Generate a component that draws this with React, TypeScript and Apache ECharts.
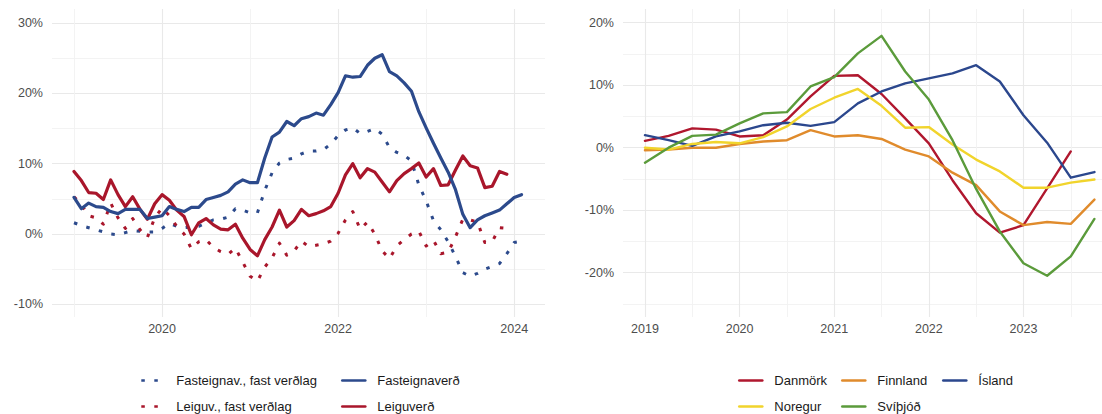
import React, { useEffect, useRef } from 'react';
import * as echarts from 'echarts';

// ---------- Left chart: monthly, Jan 2019 onwards ----------
const monthStartYear = 2019;
const fasteignaverd = [
  5.2, 3.6, 4.4, 3.9, 3.8, 3.2, 2.9, 3.5, 3.5, 3.5, 2.2, 2.4,
  2.6, 3.9, 3.5, 3.2, 3.8, 3.8, 4.9, 5.2, 5.5, 6.0, 7.1, 7.7,
  7.3, 7.3, 10.8, 13.8, 14.5, 16.0, 15.4, 16.4, 16.7, 17.2, 16.9, 18.4,
  20.1, 22.5, 22.3, 22.4, 24.0, 25.0, 25.5, 23.1, 22.5, 21.5, 20.3, 17.4,
  15.1, 12.9, 10.8, 8.8, 6.3, 2.8, 0.9, 2.0, 2.6, 3.0, 3.4, 4.3,
  5.2, 5.6,
];
const fasteignavFast = [
  1.6, 1.2, 0.9, 0.6, 0.3, 0.0, -0.1, 0.2, 0.5, 0.4, 0.3, 0.3,
  0.8, 1.5, 1.1, 0.9, 1.0, 1.1, 1.6, 2.0, 2.1, 2.4, 3.6, 3.4,
  3.0, 3.0, 6.2, 8.7, 10.1, 10.6, 10.8, 11.4, 11.8, 11.8, 12.0, 12.8,
  14.0, 14.8, 15.1, 14.3, 14.6, 15.0, 14.2, 12.3, 11.6, 11.2, 10.4, 7.0,
  4.7, 1.9, 0.6, -1.1, -3.2, -5.5, -6.0, -5.6, -5.0, -4.6, -4.2, -2.8,
  -1.2, -1.0,
];
const leiguverd = [
  8.9, 7.6, 5.9, 5.8, 4.9, 7.7, 5.6, 3.9, 5.3, 3.5, 2.1, 4.3,
  5.6, 4.8, 3.4, 2.5, -0.1, 1.6, 2.2, 1.3, 0.7, 0.6, 1.4, -0.6,
  -2.2, -3.1, -0.8, 1.0, 3.4, 1.0, 1.9, 3.5, 2.6, 2.9, 3.3, 3.9,
  5.8, 8.4, 10.0, 8.0, 9.3, 8.8, 7.4, 6.0, 7.6, 8.6, 9.3, 10.1,
  8.1, 9.3, 6.9, 7.0, 9.1, 11.1, 9.7, 9.4, 6.6, 6.8, 8.9, 8.5,
];
const leiguvFast = [
  5.3, 4.2, 2.6, 2.3, 1.4, 4.4, 2.3, 0.8, 2.2, 0.6, -0.5, 2.3,
  3.7, 2.6, 1.1, 0.0, -2.1, -1.1, -0.8, -1.9, -2.5, -2.9, -2.0, -4.0,
  -6.0, -6.7, -4.7, -3.4, -1.3, -3.0, -2.4, -1.0, -1.8, -1.6, -1.4, -1.0,
  0.1, 2.0, 3.2, 0.7, 1.7, 0.0, -2.4, -3.5, -1.7, -0.8, 0.0, 0.4,
  -1.7, -0.9, -2.8, -2.6, -0.4, 2.1, 2.0, 1.7, -1.2, -1.1, 0.9, 0.8,
];

const leftMajorX = [2020, 2022, 2024];
const leftMinorX = [2019, 2021, 2023];
const leftMajorY = [-10, 0, 10, 20, 30];
const leftMinorY = [-5, 5, 15, 25];

// ---------- Right chart: quarterly, Q1 2019 onwards ----------
const quarterStartYear = 2019;
const danmork = [1.1, 1.9, 3.1, 2.9, 1.8, 2.0, 4.5, 8.2, 11.5, 11.6, 8.6, 4.7, 0.7, -5.2, -10.5, -13.6, -12.4, -6.5, -0.6];
const finnland = [-0.4, -0.3, 0.0, 0.0, 0.6, 1.0, 1.2, 2.8, 1.8, 2.0, 1.4, -0.3, -1.4, -4.0, -6.0, -10.2, -12.4, -11.9, -12.2, -8.3];
const island = [2.0, 1.2, 0.3, 1.8, 2.6, 3.6, 4.0, 3.5, 4.1, 7.1, 9.0, 10.3, 11.1, 11.9, 13.2, 10.6, 5.2, 0.8, -4.8, -3.9];
const noregur = [0.0, -0.3, 0.6, 0.9, 0.7, 1.7, 3.4, 6.2, 8.0, 9.4, 6.7, 3.2, 3.3, 0.5, -1.9, -3.8, -6.4, -6.4, -5.6, -5.1];
const svithjod = [-2.4, 0.0, 1.9, 2.1, 3.9, 5.5, 5.7, 9.8, 11.3, 15.1, 17.9, 12.2, 7.7, 1.2, -6.6, -13.4, -18.5, -20.5, -17.4, -11.4];

const rightMajorX = [2019, 2020, 2021, 2022, 2023];
const rightMinorX = [2019.5, 2020.5, 2021.5, 2022.5, 2023.5];
const rightMajorY = [-20, -10, 0, 10, 20];
const rightMinorY = [-25, -15, -5, 5, 15];

const FONT = '"Liberation Sans", Arial, sans-serif';
const BLUE = '#2C4A8C';
const RED = '#A9162B';
const C_DK = '#B0172E';
const C_FI = '#E08B2C';
const C_IS = '#2B478D';
const C_NO = '#F1D42C';
const C_SE = '#5B9B3B';

const monthly = (arr: number[]) => arr.map((v, i) => [monthStartYear + i / 12, v]);
const quarterly = (arr: number[]) => arr.map((v, i) => [quarterStartYear + i / 4, v]);

function axis(
  dim: 'x' | 'y',
  gridIndex: number,
  min: number,
  max: number,
  values: number[],
  major: boolean,
  formatter: (v: number) => string
) {
  return {
    type: 'value',
    gridIndex,
    min,
    max,
    position: dim === 'x' ? 'bottom' : 'left',
    axisLine: { show: false },
    axisTick: { show: false, customValues: values },
    axisLabel: {
      show: major,
      customValues: values,
      formatter,
      color: '#4D4D4D',
      fontSize: 12.5,
      fontFamily: FONT,
      margin: dim === 'x' ? 5 : 9,
    },
    splitLine: {
      show: true,
      lineStyle: { color: major ? '#E9E9E9' : '#F2F2F2', width: major ? 1.1 : 0.9 },
    },
  };
}

const pct = (v: number) => `${Math.round(v)}%`;
const yr = (v: number) => `${Math.round(v)}`;

function legend(name: string, left: number, top: number) {
  return {
    data: [name],
    left,
    top,
    padding: 0,
    itemWidth: 23,
    itemHeight: 14,
    selectedMode: false,
    itemStyle: { opacity: 0, borderWidth: 0 },
    lineStyle: { width: 2.6 },
    textStyle: { fontSize: 13, color: '#1A1A1A', fontFamily: FONT, padding: [0, 0, 0, 7] },
  };
}

function lineSeries(name: string, data: number[][], color: string, width: number, xi: number, yi: number, dotted = false) {
  return {
    name,
    type: 'line',
    data,
    xAxisIndex: xi,
    yAxisIndex: yi,
    showSymbol: false,
    symbol: 'none',
    color,
    lineStyle: {
      color,
      width,
      type: dotted ? [3.5, 9.5] : 'solid',
      cap: dotted ? 'butt' : 'round',
      join: 'round',
    },
  };
}

export default function App() {
  const ref = useRef<HTMLDivElement>(null);
  useEffect(() => {
    if (!ref.current) return;
    const chart = echarts.init(ref.current, null, { renderer: 'svg' });
    const option = {
      animation: false,
      backgroundColor: '#ffffff',
      grid: [
        { left: 52, top: 9, width: 493, height: 308 },
        { left: 623, top: 9, width: 479, height: 308 },
      ],
      xAxis: [
        axis('x', 0, 2018.75, 2024.35, leftMajorX, true, yr),
        axis('x', 0, 2018.75, 2024.35, leftMinorX, false, yr),
        axis('x', 1, 2018.768, 2023.83, rightMajorX, true, yr),
        axis('x', 1, 2018.768, 2023.83, rightMinorX, false, yr),
      ],
      yAxis: [
        axis('y', 0, -11.8, 32.0, leftMajorY, true, pct),
        axis('y', 0, -11.8, 32.0, leftMinorY, false, pct),
        axis('y', 1, -27.1, 22.2, rightMajorY, true, pct),
        axis('y', 1, -27.1, 22.2, rightMinorY, false, pct),
      ],
      legend: [
        legend('Fasteignav., fast verðlag', 140, 374),
        legend('Fasteignaverð', 341, 374),
        legend('Leiguv., fast verðlag', 140, 400),
        legend('Leiguverð', 341, 400),
        legend('Danmörk', 738, 374),
        legend('Finnland', 841, 374),
        legend('Ísland', 942, 374),
        legend('Noregur', 738, 400),
        legend('Svíþjóð', 841, 400),
      ],
      series: [
        lineSeries('Fasteignav., fast verðlag', monthly(fasteignavFast), BLUE, 3, 0, 0, true),
        lineSeries('Leiguv., fast verðlag', monthly(leiguvFast), RED, 3, 0, 0, true),
        lineSeries('Leiguverð', monthly(leiguverd), RED, 3.2, 0, 0),
        lineSeries('Fasteignaverð', monthly(fasteignaverd), BLUE, 3.2, 0, 0),
        lineSeries('Danmörk', quarterly(danmork), C_DK, 2.4, 2, 2),
        lineSeries('Finnland', quarterly(finnland), C_FI, 2.4, 2, 2),
        lineSeries('Ísland', quarterly(island), C_IS, 2.4, 2, 2),
        lineSeries('Noregur', quarterly(noregur), C_NO, 2.4, 2, 2),
        lineSeries('Svíþjóð', quarterly(svithjod), C_SE, 2.4, 2, 2),
      ],
    };
    chart.setOption(option as any);
    return () => chart.dispose();
  }, []);
  return (
    <div
      ref={ref}
      style={{ position: 'fixed', left: 0, top: 0, width: 1102, height: 414, background: '#fff' }}
    />
  );
}
